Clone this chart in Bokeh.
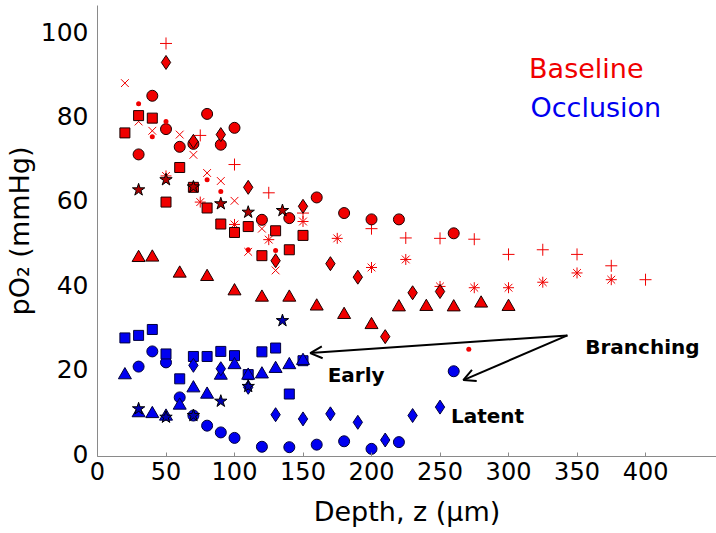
from bokeh.plotting import figure
from bokeh.models import Range1d, FixedTicker, Label, Arrow, OpenHead
from bokeh.embed import file_html
from bokeh.resources import INLINE

# ---------------- data (depth in um, pO2 in mmHg) ----------------
base_circle_z = [30, 40, 50, 60, 70, 80, 90, 100, 120, 140, 160, 180, 200, 220, 260]
base_circle_p = [70.9, 84.8, 76.9, 72.7, 73.4, 80.5, 73.2, 77.2, 55.4, 55.8, 60.7, 57.0, 55.5, 55.5, 52.2]

base_square_z = [20, 30, 40, 50, 60, 70, 80, 90, 100, 110, 120, 130, 140, 150]
base_square_p = [76.0, 80.1, 79.5, 59.6, 67.8, 63.1, 58.2, 54.4, 52.4, 53.8, 46.9, 52.8, 48.3, 51.7]

base_triangle_z = [30, 40, 60, 80, 100, 120, 140, 160, 180, 200, 220, 240, 260, 280, 300]
base_triangle_p = [46.4, 46.5, 42.7, 41.9, 38.5, 37.0, 37.0, 34.9, 32.9, 30.5, 34.7, 34.8, 34.7, 35.6, 34.8]

base_diamond_z = [50, 70, 90, 110, 130, 150, 170, 190, 210, 230, 250]
base_diamond_p = [92.7, 74.0, 75.6, 63.1, 45.7, 58.6, 45.0, 41.8, 27.7, 38.1, 38.4]

base_star_z = [30, 50, 70, 90, 110, 135]
base_star_p = [62.5, 64.9, 63.2, 59.2, 57.2, 57.6]

base_x_z = [20, 30, 40, 60, 70, 80, 90, 100, 110, 120, 130]
base_x_p = [87.8, 78.7, 76.5, 75.6, 70.8, 66.5, 64.6, 59.9, 47.8, 53.3, 43.4]

base_plus_z = [50, 75, 100, 125, 150, 200, 225, 250, 275, 300, 325, 350, 375, 400]
base_plus_p = [97.2, 75.4, 68.5, 61.8, 57.0, 53.3, 51.1, 51.0, 50.8, 47.2, 48.3, 47.2, 44.5, 41.2]

base_ast_z = [50, 75, 100, 125, 150, 175, 200, 225, 250, 275, 300, 325, 350, 375]
base_ast_p = [65.8, 59.6, 54.3, 50.7, 55.0, 51.0, 44.1, 46.0, 39.6, 39.3, 39.3, 40.6, 42.8, 41.2]

base_dot_z = [30, 40, 50, 80, 90, 110, 130, 271]
base_dot_p = [82.9, 75.1, 78.7, 64.9, 62.1, 48.3, 48.1, 24.7]

occ_circle_z = [30, 40, 50, 60, 70, 80, 90, 100, 120, 140, 160, 180, 200, 220, 260]
occ_circle_p = [20.6, 24.2, 21.6, 13.3, 9.0, 6.6, 5.0, 3.7, 1.6, 1.5, 2.1, 2.9, 1.1, 2.7, 19.5]

occ_square_z = [20, 30, 40, 50, 60, 70, 80, 90, 100, 110, 120, 130, 140, 150]
occ_square_p = [27.4, 28.0, 29.4, 23.6, 17.7, 23.0, 23.0, 24.2, 23.2, 18.7, 24.1, 25.0, 14.1, 22.0]

occ_diamond_z = [70, 90, 110, 130, 150, 170, 190, 210, 230, 250]
occ_diamond_p = [20.9, 20.1, 15.7, 9.2, 8.2, 9.4, 7.4, 3.2, 9.0, 11.0]

occ_triangle_z = [20, 30, 40, 50, 60, 70, 80, 90, 100, 110, 120, 130, 140, 150]
occ_triangle_p = [18.6, 9.6, 9.4, 8.8, 11.4, 15.5, 14.0, 18.5, 21.0, 18.5, 18.8, 20.1, 21.0, 22.0]

occ_star_z = [30, 50, 70, 90, 110, 135]
occ_star_p = [10.6, 8.6, 9.0, 12.4, 15.9, 31.5]

x_ticks = [0, 50, 100, 150, 200, 250, 300, 350, 400]
y_ticks = [0, 20, 40, 60, 80, 100]

legend_texts = ["Baseline", "Occlusion"]
legend_pos = [(315, 91.2), (316, 82.1)]

note_texts = ["Branching", "Early", "Latent"]
note_pos = [(356, 25.2), (168, 18.5), (258, 9.0)]

arrow_start = (343, 28.0)
arrow_ends = [(155.3, 23.8), (267, 17.4)]

# ---------------- styling ----------------
FONT = "DejaVu Sans"
RED = "#f00000"
BLUE = "#0000f0"
RED_EDGE = "#1a0000"
BLUE_EDGE = "#00003c"
AXIS_GRAY = "#8a8a8a"

p = figure(width=716, height=533, output_backend="svg", toolbar_location=None,
           x_range=Range1d(0, 451.8), y_range=Range1d(-0.71, 106.2),
           min_border_left=97, min_border_right=0, min_border_top=5,
           min_border_bottom=77)
p.outline_line_color = None
p.grid.visible = False
p.background_fill_color = "white"
p.border_fill_color = "white"

# baseline (red)
p.scatter(base_x_z, base_x_p, marker="x", size=11, line_color=RED, line_width=1)
p.scatter(base_plus_z, base_plus_p, marker="cross", size=12, line_color=RED, line_width=1)
p.scatter(base_ast_z, base_ast_p, marker="asterisk", size=11, line_color=RED, line_width=1)
p.scatter(base_circle_z, base_circle_p, marker="circle", size=11,
          fill_color=RED, line_color=RED_EDGE, line_width=1)
p.scatter(base_square_z, base_square_p, marker="square", size=10,
          fill_color=RED, line_color=RED_EDGE, line_width=1)
p.scatter(base_triangle_z, base_triangle_p, marker="triangle", size=13,
          fill_color=RED, line_color=RED_EDGE, line_width=1)
p.scatter(base_diamond_z, base_diamond_p, marker="diamond", size=14,
          fill_color=RED, line_color=RED_EDGE, line_width=1)
p.scatter(base_dot_z, base_dot_p, marker="circle", size=5, fill_color=RED, line_color=None)
p.scatter(base_star_z, base_star_p, marker="star", size=13,
          fill_color="#b00000", line_color="black", line_width=1)

# occlusion (blue)
p.scatter(occ_circle_z, occ_circle_p, marker="circle", size=11,
          fill_color=BLUE, line_color=BLUE_EDGE, line_width=1)
p.scatter(occ_square_z, occ_square_p, marker="square", size=10,
          fill_color=BLUE, line_color=BLUE_EDGE, line_width=1)
p.scatter(occ_triangle_z, occ_triangle_p, marker="triangle", size=13,
          fill_color=BLUE, line_color=BLUE_EDGE, line_width=1)
p.scatter(occ_diamond_z, occ_diamond_p, marker="diamond", size=14,
          fill_color=BLUE, line_color=BLUE_EDGE, line_width=1)
p.scatter(occ_star_z, occ_star_p, marker="star", size=13,
          fill_color="#0000b0", line_color="black", line_width=1)

# axes
p.xaxis.ticker = FixedTicker(ticks=x_ticks)
p.yaxis.ticker = FixedTicker(ticks=y_ticks)
p.xaxis.axis_label = "Depth, z (µm)"
p.yaxis.axis_label = "pO₂ (mmHg)"
for ax in (p.xaxis, p.yaxis):
    ax.axis_line_color = AXIS_GRAY
    ax.axis_line_width = 1
    ax.major_tick_line_color = AXIS_GRAY
    ax.minor_tick_line_color = None
    ax.major_tick_out = 0
    ax.major_label_text_font = FONT
    ax.major_label_text_color = "black"
    ax.axis_label_text_font = FONT
    ax.axis_label_text_font_style = "normal"
    ax.axis_label_text_color = "black"
    ax.axis_label_text_font_size = "27px"
p.xaxis.major_tick_in = 4
p.yaxis.major_tick_in = 0
p.xaxis.major_label_text_font_size = "24px"
p.yaxis.major_label_text_font_size = "25px"
p.xaxis.major_label_standoff = 5
p.yaxis.major_label_standoff = 9
p.xaxis.axis_label_standoff = 13
p.yaxis.axis_label_standoff = 3

# legend-like texts
for t, (x, y), c in zip(legend_texts, legend_pos, [RED, BLUE]):
    p.add_layout(Label(x=x, y=y, text=t, text_color=c, text_font=FONT,
                       text_font_size="27px", text_baseline="alphabetic",
                       text_align="left"))

# annotations
for t, (x, y) in zip(note_texts, note_pos):
    p.add_layout(Label(x=x, y=y, text=t, text_color="black", text_font=FONT,
                       text_font_size="20px", text_font_style="bold",
                       text_baseline="alphabetic", text_align="left"))

for (xe, ye) in arrow_ends:
    p.add_layout(Arrow(end=OpenHead(size=12, line_width=2, line_color="black"),
                       x_start=arrow_start[0], y_start=arrow_start[1],
                       x_end=xe, y_end=ye, line_width=2, line_color="black"))

open("out.html", "w").write(file_html(p, INLINE))
